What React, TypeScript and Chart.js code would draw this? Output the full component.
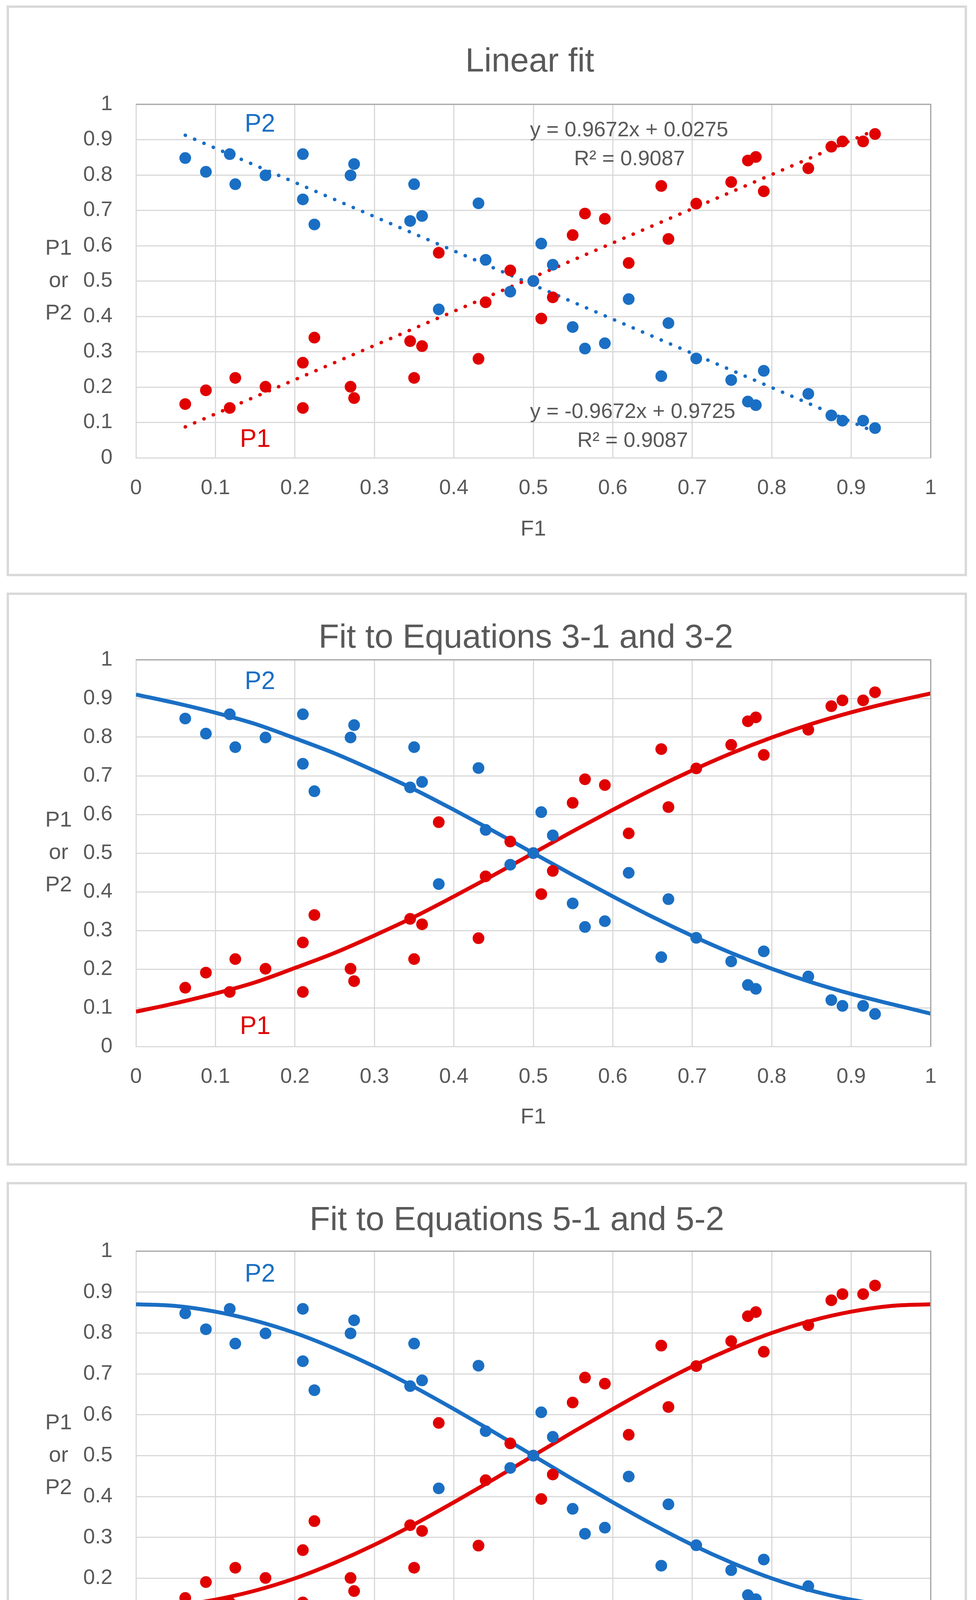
import { useEffect, useRef } from 'react';
import { Chart, registerables } from 'chart.js';

Chart.register(...registerables);

// measured points (same set in all three panels)
const f1 = [
  0.062, 0.088, 0.118, 0.125, 0.163, 0.21, 0.21, 0.2245, 0.27, 0.2745, 0.345, 0.35,
  0.36, 0.381, 0.431, 0.44, 0.471, 0.5, 0.51, 0.5245, 0.5495, 0.565, 0.59, 0.62,
  0.661, 0.67, 0.705, 0.749, 0.77, 0.78, 0.79, 0.846, 0.875, 0.889, 0.915, 0.93,
];
const p1 = [
  0.152, 0.191, 0.141, 0.226, 0.201, 0.269, 0.141, 0.34, 0.201, 0.169, 0.33, 0.226,
  0.316, 0.58, 0.28, 0.44, 0.53, 0.5, 0.394, 0.454, 0.63, 0.691, 0.676, 0.551,
  0.769, 0.619, 0.719, 0.78, 0.841, 0.851, 0.754, 0.819, 0.88, 0.895, 0.895, 0.916,
];
const p2 = [
  0.848, 0.809, 0.859, 0.774, 0.799, 0.731, 0.859, 0.66, 0.799, 0.831, 0.67, 0.774,
  0.684, 0.42, 0.72, 0.56, 0.47, 0.5, 0.606, 0.546, 0.37, 0.309, 0.324, 0.449,
  0.231, 0.381, 0.281, 0.22, 0.159, 0.149, 0.246, 0.181, 0.12, 0.105, 0.105, 0.084,
];

const tickValues = [0, 0.1, 0.2, 0.3, 0.4, 0.5, 0.6, 0.7, 0.8, 0.9, 1];

// linear trendlines (ends of the dotted lines)
const trendX = [0.062, 0.93];
const trendP1 = [0.0875, 0.927];
const trendP2 = [0.9125, 0.073];

// fitted curves
const curveX = [
  0, 0.05, 0.1, 0.15, 0.2, 0.25, 0.3, 0.35, 0.4, 0.45, 0.5,
  0.55, 0.6, 0.65, 0.7, 0.75, 0.8, 0.85, 0.9, 0.95, 1,
];
const eq3P1 = [
  0.09, 0.112, 0.137, 0.166, 0.203, 0.242, 0.287, 0.335, 0.388, 0.443, 0.5,
  0.557, 0.612, 0.665, 0.714, 0.759, 0.799, 0.834, 0.864, 0.89, 0.913,
];
const eq3P2 = [
  0.91, 0.888, 0.863, 0.834, 0.797, 0.758, 0.713, 0.665, 0.612, 0.557, 0.5,
  0.443, 0.388, 0.335, 0.286, 0.241, 0.201, 0.166, 0.136, 0.11, 0.085,
];
const eq5P1 = [
  0.13, 0.134, 0.148, 0.17, 0.2, 0.238, 0.282, 0.332, 0.386, 0.442, 0.5,
  0.558, 0.614, 0.668, 0.718, 0.762, 0.8, 0.83, 0.852, 0.866, 0.87,
];
const eq5P2 = [
  0.87, 0.866, 0.852, 0.83, 0.8, 0.762, 0.718, 0.668, 0.614, 0.558, 0.5,
  0.442, 0.386, 0.332, 0.282, 0.238, 0.2, 0.17, 0.148, 0.134, 0.13,
];

const BLUE = '#1a6fc4';
const RED = '#e00000';
const TEXT = '#595959';
const GRID = '#d9d9d9';
const FONT = "'Liberation Sans', Arial, sans-serif";

type Fit = 'linear' | 'eq3' | 'eq5';
type PanelSpec = {
  title: string;
  titleX: number;
  titleY: number;
  top: number;
  height: number;
  plotTop: number;
  axisHeight: number;
  f1Gap: number;
  fit: Fit;
};

const panels: PanelSpec[] = [
  { title: 'Linear fit', titleX: 1333, titleY: 163, top: 14, height: 1461, plotTop: 247, axisHeight: 297, f1Gap: 184, fit: 'linear' },
  { title: 'Fit to Equations 3-1 and 3-2', titleX: 1323, titleY: 135, top: 1517, height: 1467, plotTop: 166, axisHeight: 299, f1Gap: 182, fit: 'eq3' },
  { title: 'Fit to Equations 5-1 and 5-2', titleX: 1300, titleY: 117, top: 3026, height: 1467, plotTop: 171, axisHeight: 237, f1Gap: 162, fit: 'eq5' },
];

const pts = (xs: number[], ys: number[]) => xs.map((x, i) => ({ x, y: ys[i] }));

function fitDatasets(fit: Fit): any[] {
  if (fit === 'linear') {
    const dotted = {
      showLine: true,
      pointRadius: 0,
      borderWidth: 9,
      borderDash: [0.5, 25.5],
      borderCapStyle: 'round',
    };
    return [
      { ...dotted, data: pts(trendX, trendP1), borderColor: RED },
      { ...dotted, data: pts(trendX, trendP2), borderColor: BLUE },
    ];
  }
  const a = fit === 'eq3' ? eq3P1 : eq5P1;
  const b = fit === 'eq3' ? eq3P2 : eq5P2;
  const solid = { showLine: true, pointRadius: 0, borderWidth: 10, cubicInterpolationMode: 'monotone' };
  return [
    { ...solid, data: pts(curveX, a), borderColor: RED },
    { ...solid, data: pts(curveX, b), borderColor: BLUE },
  ];
}

const fmt = (v: number | string) => String(Math.round(Number(v) * 10) / 10);

function Panel({ spec }: { spec: PanelSpec }) {
  const canvasRef = useRef<HTMLCanvasElement | null>(null);
  const h = spec.height - 12;

  useEffect(() => {
    if (!canvasRef.current) return;

    const overlay = {
      id: 'overlay',
      afterDraw(chart: any) {
        const { ctx, chartArea: a, scales } = chart;
        const x = scales.x;
        const y = scales.y;
        ctx.save();
        // plot area frame (top / right)
        ctx.strokeStyle = '#a6a6a6';
        ctx.lineWidth = 3;
        ctx.beginPath();
        ctx.moveTo(a.left, a.top);
        ctx.lineTo(a.right, a.top);
        ctx.lineTo(a.right, a.bottom);
        ctx.stroke();

        ctx.fillStyle = TEXT;
        ctx.textAlign = 'center';
        ctx.textBaseline = 'alphabetic';
        ctx.font = `86px ${FONT}`;
        ctx.fillText(spec.title, spec.titleX, spec.titleY);

        ctx.textBaseline = 'middle';
        ctx.font = `56px ${FONT}`;
        ctx.fillText('F1', (a.left + a.right) / 2, a.bottom + spec.f1Gap);
        const mid = y.getPixelForValue(0.5);
        ctx.fillText('P1', 127, mid - 83);
        ctx.fillText('or', 127, mid);
        ctx.fillText('P2', 127, mid + 83);

        ctx.font = `64px ${FONT}`;
        ctx.fillStyle = BLUE;
        ctx.fillText('P2', x.getPixelForValue(0.156), y.getPixelForValue(0.942));
        ctx.fillStyle = RED;
        ctx.fillText('P1', x.getPixelForValue(0.15), y.getPixelForValue(0.05));

        if (spec.fit === 'linear') {
          ctx.fillStyle = TEXT;
          ctx.font = `54px ${FONT}`;
          ctx.fillText('y = 0.9672x + 0.0275', x.getPixelForValue(0.6205), y.getPixelForValue(0.926));
          ctx.fillText('R\u00B2 = 0.9087', x.getPixelForValue(0.621), y.getPixelForValue(0.844));
          ctx.fillText('y = -0.9672x + 0.9725', x.getPixelForValue(0.625), y.getPixelForValue(0.129));
          ctx.fillText('R\u00B2 = 0.9087', x.getPixelForValue(0.625), y.getPixelForValue(0.047));
        }
        ctx.restore();
      },
    };

    const axis = (isX: boolean) => ({
      type: 'linear' as const,
      min: 0,
      max: 1,
      afterBuildTicks: (s: any) => {
        s.ticks = tickValues.map((v) => ({ value: v }));
      },
      afterFit: (s: any) => {
        if (isX) s.height = spec.axisHeight;
        else s.width = 325;
      },
      ticks: {
        color: TEXT,
        font: { size: 54, family: FONT },
        padding: isX ? 46 : 60,
        maxRotation: 0,
        autoSkip: false,
        callback: (v: any) => fmt(v),
      },
      grid: { color: GRID, lineWidth: 3, drawTicks: false },
      border: { color: GRID, width: 3 },
    });

    const chart = new Chart(canvasRef.current, {
      type: 'scatter',
      data: {
        datasets: [
          { data: pts(f1, p2), backgroundColor: BLUE, pointRadius: 15, pointBorderWidth: 0, pointHoverRadius: 15 },
          { data: pts(f1, p1), backgroundColor: RED, pointRadius: 15, pointBorderWidth: 0, pointHoverRadius: 15 },
          ...fitDatasets(spec.fit),
        ],
      },
      options: {
        animation: false,
        responsive: false,
        devicePixelRatio: 1,
        events: [],
        layout: { padding: { top: spec.plotTop, right: 87, bottom: 0, left: 0 } },
        plugins: {
          legend: { display: false },
          tooltip: { enabled: false },
        },
        scales: { x: axis(true), y: axis(false) },
      },
      plugins: [overlay],
    });

    return () => chart.destroy();
  }, [spec]);

  return (
    <div
      style={{
        position: 'absolute',
        left: 17,
        top: spec.top,
        width: 2458,
        height: spec.height,
        border: `6px solid ${GRID}`,
        boxSizing: 'border-box',
        background: '#fff',
      }}
    >
      <canvas ref={canvasRef} width={2446} height={h} style={{ display: 'block', width: 2446, height: h }} />
    </div>
  );
}

export default function App() {
  return (
    <div style={{ position: 'absolute', left: 0, top: 0, width: 2498, height: 4507, background: '#fff', fontFamily: FONT }}>
      {panels.map((p) => (
        <Panel key={p.title} spec={p} />
      ))}
    </div>
  );
}
